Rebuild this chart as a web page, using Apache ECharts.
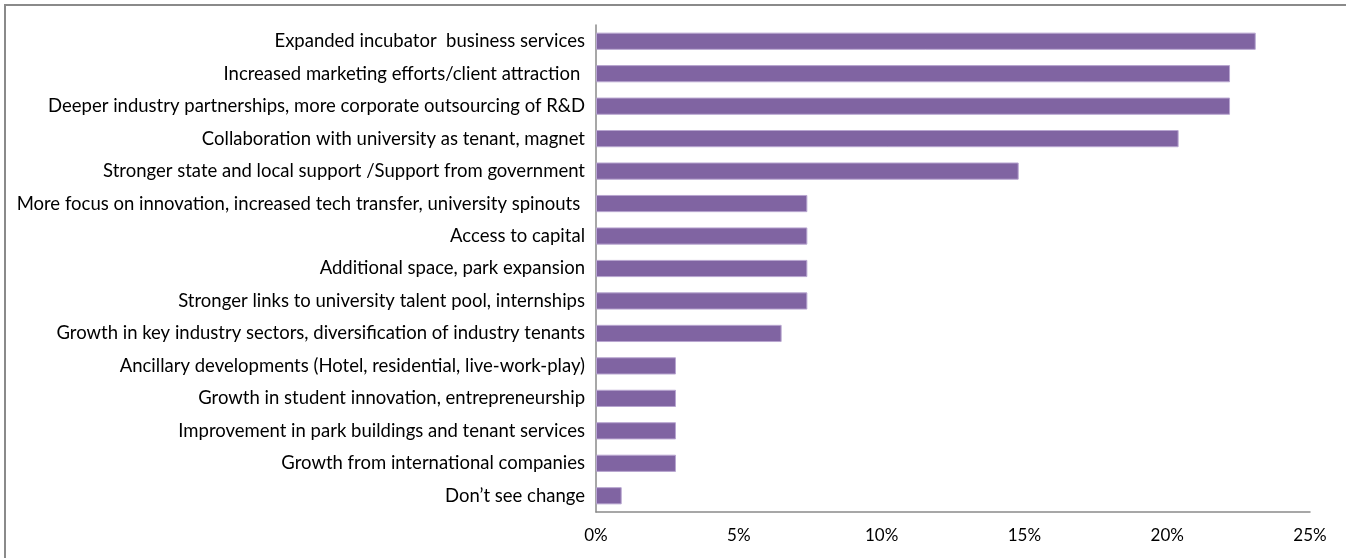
<!DOCTYPE html>
<html>
<head>
<meta charset="utf-8">
<script src="https://cdn.jsdelivr.net/npm/echarts@6/dist/echarts.min.js"></script>
<style>
html,body{margin:0;padding:0;background:#fff;}
#frame{position:absolute;left:4px;top:4px;width:1400px;height:600px;border-left:2px solid #8a8a8a;border-top:2px solid #8a8a8a;}
#chart{position:absolute;left:0;top:0;width:1346px;height:558px;}
</style>
</head>
<body>
<div id="frame"></div>
<div id="chart"></div>
<script>
const categories = [
  "Expanded incubator  business services",
  "Increased marketing efforts/client attraction ",
  "Deeper industry partnerships, more corporate outsourcing of R&D",
  "Collaboration with university as tenant, magnet",
  "Stronger state and local support /Support from government",
  "More focus on innovation, increased tech transfer, university spinouts ",
  "Access to capital",
  "Additional space, park expansion",
  "Stronger links to university talent pool, internships",
  "Growth in key industry sectors, diversification of industry tenants",
  "Ancillary developments (Hotel, residential, live-work-play)",
  "Growth in student innovation, entrepreneurship",
  "Improvement in park buildings and tenant services",
  "Growth from international companies",
  "Don\u2019t see change"
];
const values = [23.1, 22.2, 22.2, 20.4, 14.8, 7.4, 7.4, 7.4, 7.4, 6.5, 2.8, 2.8, 2.8, 2.8, 0.9];
const xTicks = [0, 5, 10, 15, 20, 25];

const FONT = 'Lato, "Open Sans", sans-serif';
const chart = echarts.init(document.getElementById('chart'), null, {renderer: 'canvas'});
chart.setOption({
  animation: false,
  backgroundColor: 'transparent',
  grid: {left: 596, right: 36, top: 25, bottom: 46, containLabel: false},
  xAxis: {
    type: 'value', min: xTicks[0], max: xTicks[xTicks.length - 1], interval: 5,
    axisLine: {show: true, lineStyle: {color: '#8a8a8a', width: 1.5}},
    axisTick: {show: false},
    splitLine: {show: false},
    axisLabel: {margin: 15, color: '#000', fontSize: 17, fontFamily: FONT, formatter: v => v + '%'}
  },
  yAxis: {
    type: 'category', data: categories, inverse: true,
    axisLine: {show: true, lineStyle: {color: '#8a8a8a', width: 1.5}},
    axisTick: {show: false},
    axisLabel: {margin: 11, color: '#000', fontSize: 18.5, fontFamily: FONT}
  },
  series: [{
    type: 'bar', data: values, barWidth: '53%',
    itemStyle: {color: '#8064A2', borderColor: '#b8a6d0', borderWidth: 1}
  }]
});
</script>
</body>
</html>
